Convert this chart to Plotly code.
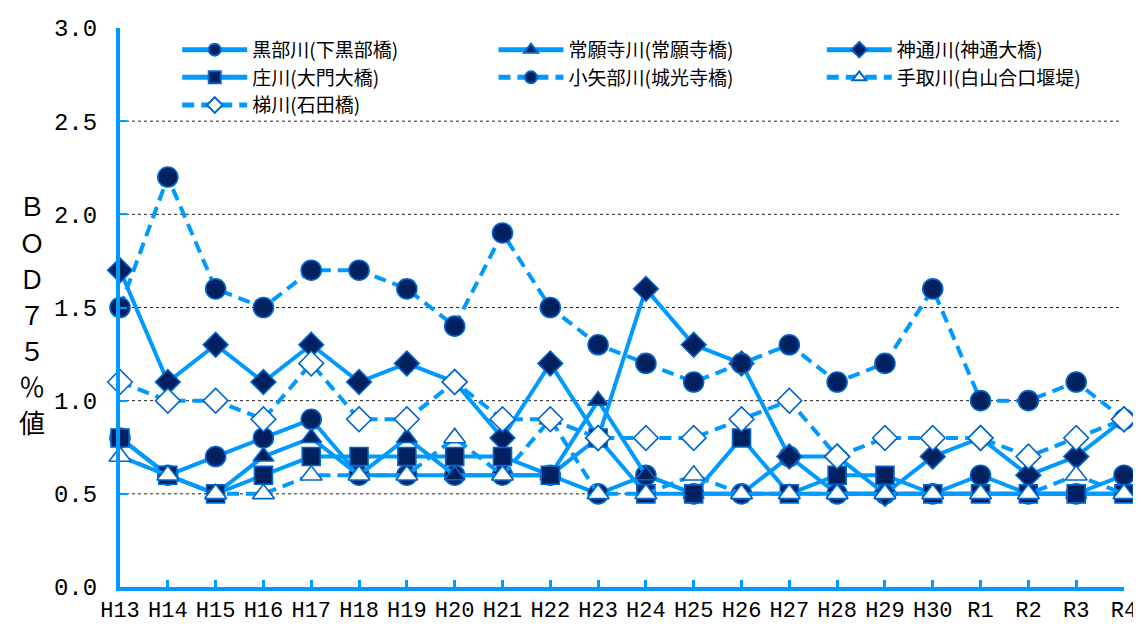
import plotly.graph_objects as go

years = ["H13", "H14", "H15", "H16", "H17", "H18", "H19", "H20", "H21", "H22", "H23",
         "H24", "H25", "H26", "H27", "H28", "H29", "H30", "R1", "R2", "R3", "R4"]

kurobe = [0.8, 0.6, 0.7, 0.8, 0.9, 0.6, 0.6, 0.6, 0.6, 0.6, 0.5,
          0.6, 0.5, 0.5, 0.7, 0.5, 0.5, 0.5, 0.6, 0.5, 0.5, 0.6]
joganji = [0.7, 0.6, 0.5, 0.7, 0.8, 0.6, 0.8, 0.6, 0.6, 0.6, 1.0,
           0.6, 0.5, 0.5, 0.5, 0.5, 0.5, 0.5, 0.5, 0.5, 0.5, 0.5]
jinzu = [1.7, 1.1, 1.3, 1.1, 1.3, 1.1, 1.2, 1.1, 0.8, 1.2, 0.8,
         1.6, 1.3, 1.2, 0.7, 0.7, 0.5, 0.7, 0.8, 0.6, 0.7, 0.9]
sho = [0.8, 0.6, 0.5, 0.6, 0.7, 0.7, 0.7, 0.7, 0.7, 0.6, 0.8,
       0.5, 0.5, 0.8, 0.5, 0.6, 0.6, 0.5, 0.5, 0.5, 0.5, 0.5]
oyabe = [1.5, 2.2, 1.6, 1.5, 1.7, 1.7, 1.6, 1.4, 1.9, 1.5, 1.3,
         1.2, 1.1, 1.2, 1.3, 1.1, 1.2, 1.6, 1.0, 1.0, 1.1, 0.9]
tedori = [0.7, 0.6, 0.5, 0.5, 0.6, 0.6, 0.6, 0.8, 0.6, 0.9, 0.5,
          0.5, 0.6, 0.5, 0.5, 0.5, 0.5, 0.5, 0.5, 0.5, 0.6, 0.5]
kakehashi = [1.1, 1.0, 1.0, 0.9, 1.2, 0.9, 0.9, 1.1, 0.9, 0.9, 0.8,
             0.8, 0.8, 0.9, 1.0, 0.7, 0.8, 0.8, 0.8, 0.7, 0.8, 0.9]

y_ticks = [0.0, 0.5, 1.0, 1.5, 2.0, 2.5, 3.0]
grid_vals = [0.5, 1.0, 1.5, 2.0, 2.5]
y_title = "ＢＯＤ７５％値"

LINE = "#0099FF"
NAVY = "#002060"
EDGE = "#0066CC"

# (name, values, dash, symbol, fill, size, legend column)
series = [
    ("黒部川(下黒部橋)", kurobe, "solid", "circle", NAVY, 20, "legend"),
    ("常願寺川(常願寺橋)", joganji, "solid", "triangle-up", NAVY, 18, "legend2"),
    ("神通川(神通大橋)", jinzu, "solid", "diamond", NAVY, 19, "legend3"),
    ("庄川(大門大橋)", sho, "solid", "square", NAVY, 18, "legend"),
    ("小矢部川(城光寺橋)", oyabe, "12px,7px", "circle", NAVY, 20, "legend2"),
    ("手取川(白山合口堰堤)", tedori, "12px,7px", "triangle-up", "white", 19, "legend3"),
    ("梯川(石田橋)", kakehashi, "12px,7px", "diamond", "white", 19, "legend"),
]

fig = go.Figure()
for name, vals, dash, sym, fill, size, leg in series:
    fig.add_trace(go.Scatter(
        x=years, y=vals, name=name, mode="lines+markers",
        line=dict(color=LINE, width=4, dash=dash),
        marker=dict(symbol=sym, size=size, color=fill,
                    line=dict(color=EDGE, width=1.6)),
        cliponaxis=False, legend=leg,
    ))

for g in grid_vals:
    fig.add_shape(type="line", xref="paper", yref="y", x0=0, x1=0.996, y0=g, y1=g,
                  line=dict(color="#222222", width=1, dash="dot"), layer="below")

# vertical (stacked) axis title, one character per line
plot_h = 623 - 20 - 44
for i, ch in enumerate(y_title):
    ypix = 197 + 36 * i  # pixel position from top of figure
    fig.add_annotation(
        text=ch, xref="paper", yref="paper", x=-0.088, y=(579 - ypix) / plot_h,
        xanchor="center", yanchor="middle", showarrow=False,
        font=dict(family="Noto Sans CJK JP", size=26, color="black"),
    )

leg_common = dict(
    orientation="v", y=0.995, xanchor="left", yanchor="top", itemwidth=65,
    font=dict(family="Noto Sans CJK JP", size=19, color="black"),
    bgcolor="rgba(0,0,0,0)", itemsizing="constant", tracegroupgap=0,
)

fig.update_layout(
    width=1133, height=623,
    margin=dict(l=112, r=17, t=20, b=44),
    paper_bgcolor="white", plot_bgcolor="white",
    showlegend=True,
    legend=dict(x=0.057, **leg_common),
    legend2=dict(x=0.372, **leg_common),
    legend3=dict(x=0.699, **leg_common),
    xaxis=dict(
        type="category", range=[0, 21], automargin=False,
        showline=True, linecolor=LINE, linewidth=4,
        ticks="inside", ticklen=7, tickwidth=3, tickcolor=LINE,
        showgrid=False, zeroline=False,
        tickfont=dict(family="Liberation Mono", size=22, color="black"),
    ),
    yaxis=dict(
        range=[0, 3.0], tickvals=y_ticks, ticktext=[f"{v:.1f}" for v in y_ticks],
        automargin=False,
        showline=True, linecolor=LINE, linewidth=4,
        ticks="inside", ticklen=7, tickwidth=2, tickcolor=LINE,
        showgrid=False, zeroline=False, ticklabelstandoff=14,
        tickfont=dict(family="Liberation Mono", size=24, color="black"),
    ),
)

fig.write_html("out.html")
